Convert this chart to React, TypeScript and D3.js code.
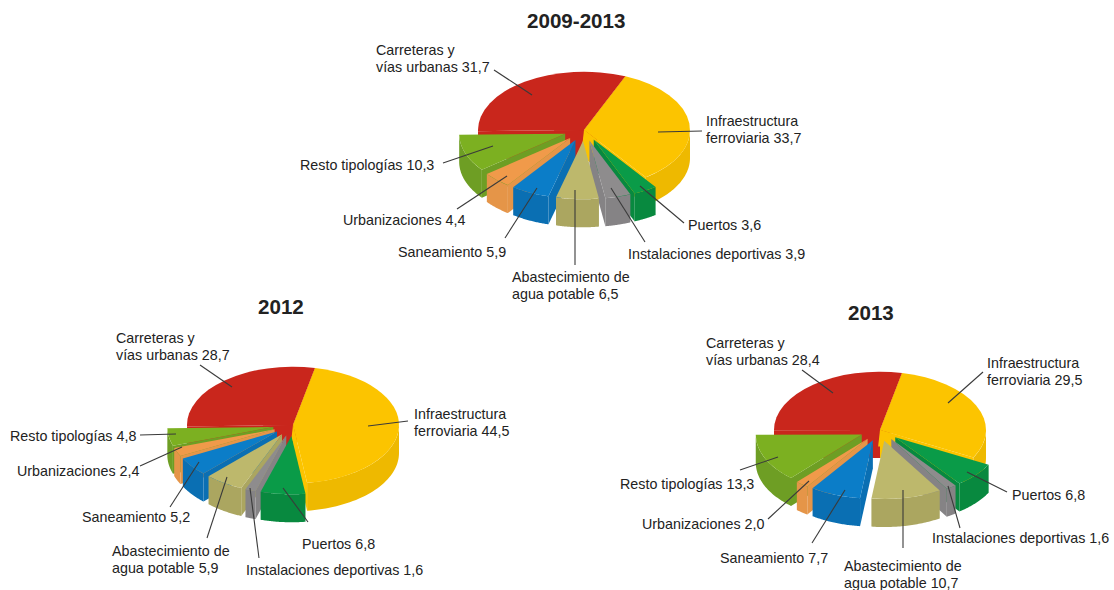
import * as d3 from 'd3';

const categories = [
  'Infraestructura ferroviaria',
  'Puertos',
  'Instalaciones deportivas',
  'Abastecimiento de agua potable',
  'Saneamiento',
  'Urbanizaciones',
  'Resto tipologías',
  'Carreteras y vías urbanas',
];
const values20092013 = [33.7, 3.6, 3.9, 6.5, 5.9, 4.4, 10.3, 31.7];
const values2012 = [44.5, 6.8, 1.6, 5.9, 5.2, 2.4, 4.8, 28.7];
const values2013 = [29.5, 6.8, 1.6, 10.7, 7.7, 2.0, 13.3, 28.4];

const topColors = ['#fcc400', '#0a9b48', '#8e8c8d', '#bdb86c', '#0b7dc8', '#f09a4a', '#7cb021', '#c9261c'];
const wallColors = ['#eeb900', '#08893f', '#858385', '#aba660', '#0a6fb3', '#e59548', '#6e9e24', '#b02018'];

// label layout, one row per category: [text x, first line y, leader x1, y1, leader x2, y2]
const layout20092013 = [
  [706, 126, 702, 131, 658, 132],
  [688, 230, 684, 223, 640, 186],
  [628, 259, 645, 242, 611, 188],
  [512, 282, 575, 265, 575, 190],
  [398, 257, 505, 238, 537, 188],
  [343, 225, 457, 209, 507, 176],
  [300, 170, 443, 163, 493, 146],
  [376, 55, 494, 70, 532, 95],
];
const layout2012 = [
  [414, 419, 408, 421, 368, 426],
  [302, 549, 308, 522, 283, 488],
  [246, 575, 259, 558, 250, 488],
  [112, 556, 207, 538, 227, 477],
  [82, 522, 170, 507, 199, 462],
  [17, 476, 140, 466, 182, 447],
  [10, 441, 140, 435, 176, 434],
  [116, 343, 200, 365, 232, 387],
];
const layout2013 = [
  [987, 368, 983, 372, 948, 403],
  [1012, 500, 1007, 492, 967, 472],
  [932, 543, 960, 528, 948, 486],
  [844, 571, 903, 548, 903, 490],
  [720, 563, 812, 543, 845, 490],
  [642, 529, 768, 519, 809, 481],
  [620, 489, 740, 470, 778, 457],
  [706, 348, 802, 370, 833, 393],
];

const WIDTH = 1114;
const HEIGHT = 590;
const R = 106;
const RATIO = 0.55;
const DEPTH = 28;
const EXPLODE = 20;
const HUB = 30;
const FONT = '"Liberation Sans", Arial, sans-serif';

const fmt = (v: number) => v.toFixed(1).replace('.', ',');

function labelLines(cat: string, v: number): string[] {
  if (cat.startsWith('Infra')) return ['Infraestructura', `ferroviaria ${fmt(v)}`];
  if (cat.startsWith('Abast')) return ['Abastecimiento de', `agua potable ${fmt(v)}`];
  if (cat.startsWith('Carr')) return ['Carreteras y', `vías urbanas ${fmt(v)}`];
  return [`${cat} ${fmt(v)}`];
}

function Pie3D({ title, titleX, titleY, cx, cy, startDeg, values, layout }: {
  title: string; titleX: number; titleY: number; cx: number; cy: number;
  startDeg: number; values: number[]; layout: number[][];
}) {
  const start = (startDeg * Math.PI) / 180;
  const slices = d3.pie<number>().sort(null).startAngle(start).endAngle(start + 2 * Math.PI)(values);
  const arc = d3.arc<d3.PieArcDatum<number>>().innerRadius(0).outerRadius(R);

  // project pie coordinates (clockwise from top) on to the tilted plane
  const px = (a: number, r: number) => r * Math.sin(a);
  const py = (a: number, r: number) => -r * Math.cos(a) * RATIO;

  const items = slices.map((s, i) => {
    const exploded = i !== 0 && i !== slices.length - 1;
    const mid = (s.startAngle + s.endAngle) / 2;
    const d = exploded ? EXPLODE : 0;
    return { s, i, mid, ox: cx + px(mid, d), oy: cy + py(mid, d), exploded };
  });
  const order = [...items].sort((a, b) => Math.cos(b.mid) - Math.cos(a.mid));

  const wallPath = d3.area<number>()
    .x((a) => px(a, R))
    .y0((a) => py(a, R))
    .y1((a) => py(a, R) + DEPTH);

  const face = (a: number) => {
    const x = px(a, R);
    const y = py(a, R);
    return `M0,0L${x},${y}L${x},${y + DEPTH}L0,${DEPTH}Z`;
  };

  const hubArc = d3.arc<any>().innerRadius(0).outerRadius(HUB);
  const first = slices[0];
  const last = slices[slices.length - 1];

  return (
    <g>
      <text x={titleX} y={titleY} fontFamily={FONT} fontWeight="bold" fontSize={20.6} fill="#222">{title}</text>
      {order.map(({ s, i, ox, oy, exploded }) => {
        const a0 = Math.max(s.startAngle, Math.PI / 2);
        const a1 = Math.min(s.endAngle, (3 * Math.PI) / 2);
        const samples = a1 > a0 ? d3.range(0, 41).map((k) => a0 + ((a1 - a0) * k) / 40) : [];
        // the two fixed slices carry their top colour down the cut, so no gap shows beside the moved ones
        const faceColor = exploded ? wallColors[i] : topColors[i];
        return (
          <g key={i} transform={`translate(${ox},${oy})`}>
            {Math.sin(s.startAngle) < 0 && <path d={face(s.startAngle)} fill={faceColor} />}
            {Math.sin(s.endAngle) > 0 && <path d={face(s.endAngle)} fill={faceColor} />}
            {samples.length > 0 && <path d={wallPath(samples)!} fill={wallColors[i]} />}
            <path d={arc(s)!} transform={`scale(1,${RATIO})`} fill={topColors[i]} />
            {i === 0 && (
              <path
                d={hubArc({ startAngle: first.endAngle, endAngle: Math.PI * 1.02 })!}
                transform={`scale(1,${RATIO})`}
                fill={topColors[0]}
              />
            )}
            {i === slices.length - 1 && (
              <path
                d={hubArc({ startAngle: Math.PI * 1.02, endAngle: last.startAngle })!}
                transform={`scale(1,${RATIO})`}
                fill={topColors[i]}
              />
            )}
          </g>
        );
      })}
      {items.map(({ s, i }) => {
        const [lx, ly, x1, y1, x2, y2] = layout[i];
        const lines = labelLines(categories[i], s.value);
        return (
          <g key={i}>
            <line x1={x1} y1={y1} x2={x2} y2={y2} stroke="#3a3a3a" strokeWidth={1.1} />
            {lines.map((t, k) => (
              <text key={k} x={lx} y={ly + k * 17} fontFamily={FONT} fontSize={14.3} fill="#222">{t}</text>
            ))}
          </g>
        );
      })}
    </g>
  );
}

export default function App() {
  return (
    <svg
      width={WIDTH}
      height={HEIGHT}
      viewBox={`0 0 ${WIDTH} ${HEIGHT}`}
      style={{ position: 'absolute', left: 0, top: 0, background: '#fff' }}
    >
      <Pie3D title="2009-2013" titleX={527} titleY={28} cx={584} cy={130} startDeg={23} values={values20092013} layout={layout20092013} />
      <Pie3D title="2012" titleX={258} titleY={314} cx={293} cy={425} startDeg={12} values={values2012} layout={layout2012} />
      <Pie3D title="2013" titleX={848} titleY={320} cx={880} cy={430} startDeg={12} values={values2013} layout={layout2013} />
    </svg>
  );
}
